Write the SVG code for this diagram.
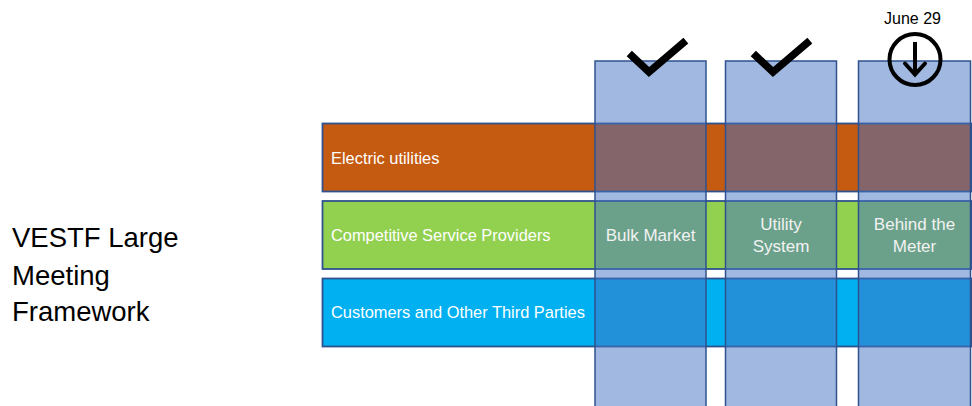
<svg xmlns="http://www.w3.org/2000/svg" width="972" height="406" viewBox="0 0 972 406">
<style>
.row{stroke:#2f528f;stroke-width:1.8}
.col{fill:#4472c4;fill-opacity:0.5;stroke:#2f528f;stroke-width:1.5}
.lbl{font-family:"Liberation Sans",Arial,sans-serif;font-size:16.4px;fill:#ffffff}
.clbl{font-family:"Liberation Sans",Arial,sans-serif;font-size:17px;fill:#f2f2f2;text-anchor:middle}
.title{font-family:"Liberation Sans",Arial,sans-serif;font-size:27.5px;fill:#000000}
.mark{fill:none;stroke:#000000;stroke-width:7.5;stroke-linecap:square}
</style>
<rect width="972" height="406" fill="#ffffff"/>
<g id="title">
<text class="title" x="12" y="247">VESTF Large</text>
<text class="title" x="12" y="285">Meeting</text>
<text class="title" x="12" y="321">Framework</text>
</g>
<g id="row-electric">
<rect class="row" x="322.5" y="123.5" width="649" height="68" fill="#c55a11"/>
<text class="lbl" x="331" y="163.5">Electric utilities</text>
</g>
<g id="row-competitive">
<rect class="row" x="322.5" y="201" width="649" height="68" fill="#92d050"/>
<text class="lbl" x="331" y="240.5">Competitive Service Providers</text>
</g>
<g id="row-customers">
<rect class="row" x="322.5" y="278.5" width="649" height="68" fill="#00b0f0"/>
<text class="lbl" x="331" y="317.5">Customers and Other Third Parties</text>
</g>
<g id="col-bulk">
<rect class="col" x="595" y="61" width="111" height="350"/>
<text class="clbl" x="650.5" y="241">Bulk Market</text>
<polyline class="mark" points="632,56 649,72 683,43"/>
</g>
<g id="col-utility">
<rect class="col" x="725.5" y="61" width="111" height="350"/>
<text class="clbl" x="781" y="230">Utility</text>
<text class="clbl" x="781" y="252">System</text>
<polyline class="mark" points="756,56 773,72 807,43"/>
</g>
<g id="col-btm">
<rect class="col" x="858.5" y="61" width="112" height="350"/>
<text class="clbl" x="914.5" y="230">Behind the</text>
<text class="clbl" x="914.5" y="252">Meter</text>
</g>
<g id="june29">
<text x="912.5" y="24" font-family="Liberation Sans,Arial,sans-serif" font-size="16" fill="#000000" text-anchor="middle">June 29</text>
<circle cx="915" cy="59.5" r="25.5" fill="none" stroke="#000000" stroke-width="4"/>
<line x1="915" y1="42" x2="915" y2="75" stroke="#000000" stroke-width="4"/>
<polyline points="905,63.5 915,74.5 925,63.5" fill="none" stroke="#000000" stroke-width="4" stroke-linecap="round" stroke-linejoin="miter"/>
</g>
</svg>
